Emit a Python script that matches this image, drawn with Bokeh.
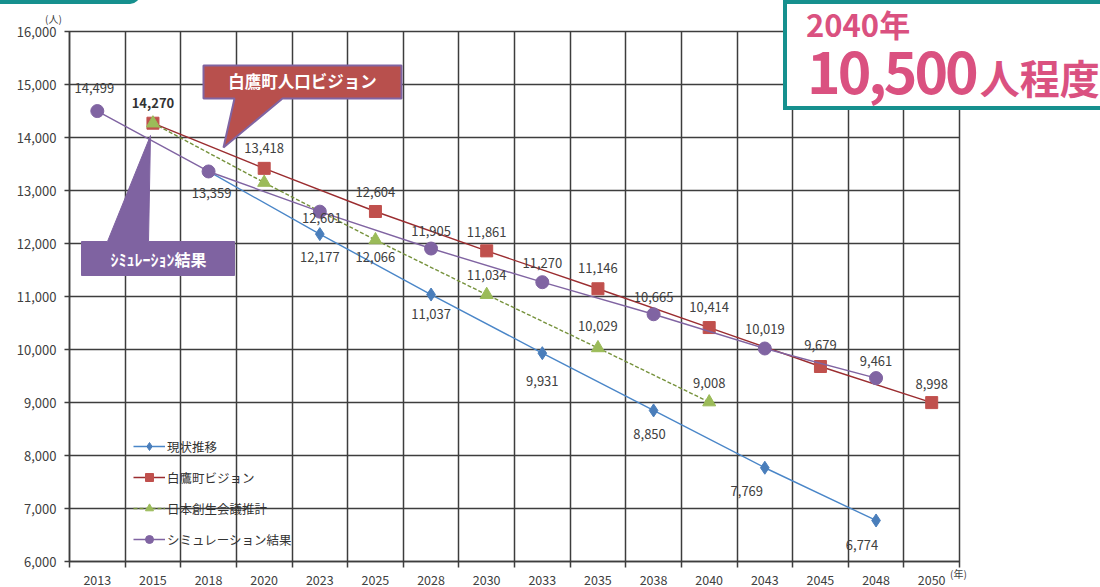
from bokeh.plotting import figure
from bokeh.models import (Range1d, FixedTicker, NumeralTickFormatter, ColumnDataSource,
                          Legend, LegendItem, Div)
from bokeh.layouts import column
from bokeh.core.properties import value
from bokeh.embed import file_html
from bokeh.resources import INLINE

# ---------------- data ----------------
years = ["2013", "2015", "2018", "2020", "2023", "2025", "2028", "2030",
         "2033", "2035", "2038", "2040", "2043", "2045", "2048", "2050"]

genjo_years = ["2018", "2023", "2028", "2033", "2038", "2043", "2048"]
genjo_vals = [13359, 12177, 11037, 9931, 8850, 7769, 6774]

vision_years = ["2015", "2020", "2025", "2030", "2035", "2040", "2045", "2050"]
vision_vals = [14270, 13418, 12604, 11861, 11146, 10414, 9679, 8998]

sousei_years = ["2015", "2020", "2025", "2030", "2035", "2040"]
sousei_vals = [14270, 13150, 12066, 11034, 10029, 9008]

sim_years = ["2013", "2018", "2023", "2028", "2033", "2038", "2043", "2048"]
sim_vals = [14499, 13359, 12601, 11905, 11270, 10665, 10019, 9461]

series_names = ["現状推移", "白鷹町ビジョン", "日本創生会議推計", "シミュレーション結果"]
y_ticks = [6000, 7000, 8000, 9000, 10000, 11000, 12000, 13000, 14000, 15000, 16000]

# label placement (pixel offsets), kept apart from the data
genjo_lbl = [None, (0, 23), (0, 19), (0, 28), (-4, 24), (-18, 23), (-14, 25)]
vision_lbl = [(0, -20), (0, -20), (0, -19), (0, -19), (0, -21), (0, -21), (0, -22), (0, -19)]
sousei_lbl = [None, None, (0, 17), (0, -20), (0, -22), (0, -19)]
sim_lbl = [(-3, -23), (3, 22), (2, 6), (0, -18), (0, -19), (0, -17), (0, -19), (0, -17)]

# ---------------- geometry helpers ----------------
W, H = 1100, 587
FL, FR, FT, FB = 69, 959, 31, 561
XMIN, XMAX, YMIN, YMAX = 0, len(years), 6000, 16000


def px2x(px):
    return XMIN + (px - FL) * (XMAX - XMIN) / (FR - FL)


def py2y(py):
    return YMIN + (FB - py) * (YMAX - YMIN) / (FB - FT)


def xpos(yrs):
    return [years.index(y) + 0.5 for y in yrs]


FONT = "Noto Sans CJK JP"
GRID = "#3d3d3d"
TEAL = "#16908e"
PINK = "#da5180"

p = figure(width=W, height=H, output_backend="svg", toolbar_location=None,
           x_range=Range1d(XMIN, XMAX), y_range=Range1d(YMIN, YMAX),
           min_border_left=FL, min_border_right=W - FR, min_border_top=FT,
           min_border_bottom=H - FB)
p.background_fill_color = "white"
p.border_fill_color = "white"
p.outline_line_color = GRID
p.outline_line_width = 1.5

# axes
xa = p.xaxis[0]
xa.ticker = FixedTicker(ticks=[i + 0.5 for i in range(len(years))],
                        minor_ticks=list(range(len(years) + 1)))
xa.major_label_overrides = {i + 0.5: y for i, y in enumerate(years)}
xa.major_tick_line_color = None
xa.major_tick_out = 0
xa.major_tick_in = 0
xa.minor_tick_line_color = GRID
xa.minor_tick_line_width = 1.5
xa.minor_tick_out = 6
xa.minor_tick_in = 0
xa.major_label_standoff = 7
xa.axis_line_color = GRID
xa.axis_line_width = 1.5
xa.major_label_text_font = FONT
xa.major_label_text_font_size = "12.5px"
xa.major_label_text_color = "#404040"

ya = p.yaxis[0]
ya.ticker = FixedTicker(ticks=y_ticks)
ya.formatter = NumeralTickFormatter(format="0,0")
ya.major_tick_out = 5
ya.major_tick_in = 0
ya.minor_tick_line_color = None
ya.major_tick_line_color = GRID
ya.major_tick_line_width = 1.5
ya.axis_line_color = GRID
ya.axis_line_width = 1.5
ya.major_label_standoff = 8
ya.major_label_text_font = FONT
ya.major_label_text_font_size = "13px"
ya.major_label_text_color = "#404040"

p.xgrid.ticker = FixedTicker(ticks=list(range(len(years) + 1)))
p.xgrid.grid_line_color = GRID
p.xgrid.grid_line_width = 1.5
p.ygrid.grid_line_color = GRID
p.ygrid.grid_line_width = 1.5

# ---------------- series ----------------
specs = [
    (genjo_years, genjo_vals, genjo_lbl, "#4a86c8", "#4a7ebb", "diamond", 13, None),
    (vision_years, vision_vals, vision_lbl, "#9b2d30", "#c0504d", "square", 12, None),
    (sousei_years, sousei_vals, sousei_lbl, "#76923c", "#9bbb59", "triangle", 13, "4 2"),
    (sim_years, sim_vals, sim_lbl, "#8064a2", "#8064a2", "circle", 13, None),
]

items = []
for (yrs, vals, lbl, lcol, mcol, marker, size, dash), name in zip(specs, series_names):
    src = ColumnDataSource(dict(x=xpos(yrs), y=vals))
    lr = p.line("x", "y", source=src, line_color=lcol, line_width=1.4,
                line_dash=dash if dash else "solid")
    sr = p.scatter("x", "y", source=src, marker=marker, size=size,
                   fill_color=mcol, line_color=mcol)
    items.append(LegendItem(label=name, renderers=[lr, sr]))

# data labels
for (yrs, vals, lbl, *_rest), idx in zip(specs, range(4)):
    xs, ys, ts, dxs, dys = [], [], [], [], []
    for yr, v, off in zip(yrs, vals, lbl):
        if off is None:
            continue
        xs.append(years.index(yr) + 0.5)
        ys.append(v)
        ts.append(f"{v:,}")
        dxs.append(off[0])
        dys.append(off[1])
    src = ColumnDataSource(dict(x=xs, y=ys, t=ts, dx=dxs, dy=dys))
    if idx == 1:
        # first label of the vision series is bold
        src_b = ColumnDataSource(dict(x=xs[:1], y=ys[:1], t=ts[:1], dx=dxs[:1], dy=dys[:1]))
        src = ColumnDataSource(dict(x=xs[1:], y=ys[1:], t=ts[1:], dx=dxs[1:], dy=dys[1:]))
        p.text("x", "y", text="t", x_offset="dx", y_offset="dy", source=src_b,
               text_align="center", text_baseline="middle", text_font=value(FONT),
               text_font_size="13px", text_font_style="bold", text_color="#333333")
    p.text("x", "y", text="t", x_offset="dx", y_offset="dy", source=src,
           text_align="center", text_baseline="middle", text_font=value(FONT),
           text_font_size="13px", text_color="#404040")

# legend
legend = Legend(items=items, location=(64, 12), orientation="vertical",
                background_fill_alpha=0, border_line_color=None,
                label_text_font=FONT, label_text_font_size="12.5px",
                label_text_color="#333333", glyph_width=32, glyph_height=20,
                label_height=20, spacing=11, padding=0, margin=0,
                label_standoff=2)
p.add_layout(legend)

# ---------------- callouts ----------------
red_box = [(203, 65), (401, 65), (401, 98), (282, 98), (223, 147), (234, 98), (203, 98)]
p.patch([px2x(a) for a, b in red_box], [py2y(b) for a, b in red_box],
        fill_color="#b8504d", line_color="#8064a2", line_width=2)
p.text([px2x(302)], [py2y(80)], text=["白鷹町人口ビジョン"], text_align="center",
       text_baseline="middle", text_font=value(FONT), text_font_size="16.5px",
       text_font_style="bold", text_color="white")

pur_box = [(81, 241), (107, 241), (150, 135), (148, 241), (234, 241), (234, 275), (81, 275)]
p.patch([px2x(a) for a, b in pur_box], [py2y(b) for a, b in pur_box],
        fill_color="#7f63a1", line_color="#7f63a1", line_width=1)
p.text([px2x(158)], [py2y(258)], text=["ｼﾐｭﾚｰｼｮﾝ結果"], text_align="center",
       text_baseline="middle", text_font=value(FONT), text_font_size="16px",
       text_font_style="bold", text_color="white")

# ---------------- overlays outside the plot frame (HTML) ----------------
def overlay(html, left, top, w, h, extra=None):
    st = {"position": "absolute", "left": f"{left}px", "top": f"{top}px",
          "z-index": "10", "margin": "0", "padding": "0", "overflow": "visible"}
    if extra:
        st.update(extra)
    return Div(text=html, width=w, height=h, styles=st)


bar = overlay("", -20, -6, 160, 10,
              {"background-color": TEAL, "border-radius": "0 0 10px 0"})

unit_y = overlay(f'<div style="font-family:\'{FONT}\';font-size:10px;color:#404040;'
                 f'line-height:1;white-space:nowrap">(人)</div>', 45, 11, 24, 12)
unit_x = overlay(f'<div style="font-family:\'{FONT}\';font-size:10px;color:#404040;'
                 f'line-height:1;white-space:nowrap">(年)</div>', 950, 566, 24, 12)

box_html = (
    f'<div style="position:relative;width:330px;height:110px;box-sizing:border-box;'
    f'border:4px solid {TEAL};background:white;font-family:\'{FONT}\';color:{PINK};'
    f'font-weight:bold;">'
    f'<div style="position:absolute;left:19px;top:4px;font-size:31px;line-height:1;'
    f'white-space:nowrap">2040年</div>'
    f'<div style="position:absolute;left:20px;top:37px;font-size:57px;line-height:1;'
    f'letter-spacing:-3px;white-space:nowrap">10,500<span style="font-size:40px;'
    f'letter-spacing:0;margin-left:4px">人程度</span></div>'
    f'</div>'
)
box = overlay(box_html, 783, 0, 330, 110)

layout = column(p, bar, unit_y, unit_x, box)

open("out.html", "w").write(file_html(layout, INLINE))
